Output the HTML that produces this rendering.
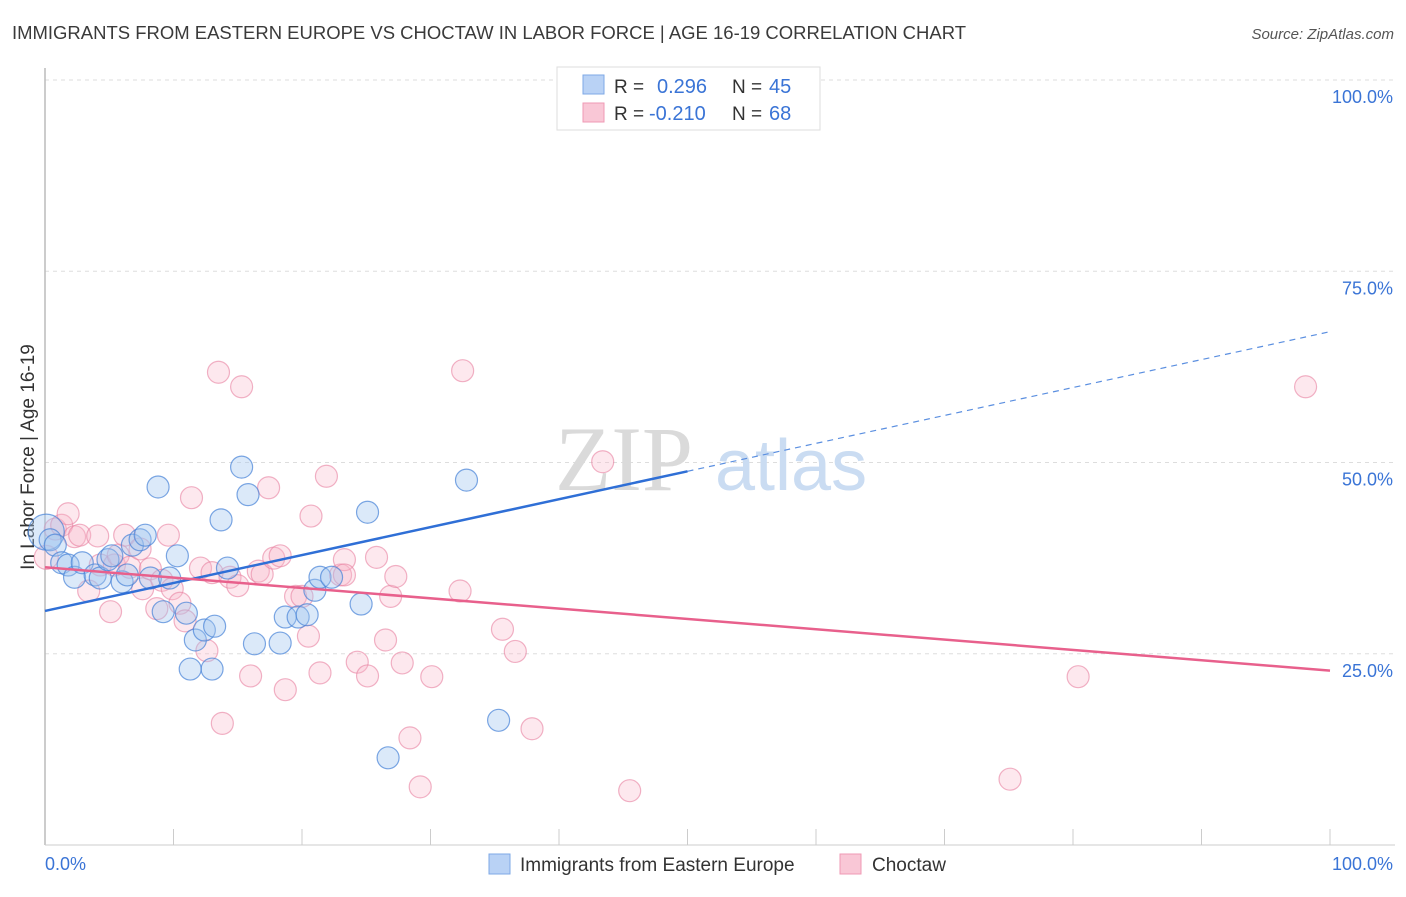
<!DOCTYPE html>
<html><head><meta charset="utf-8"><style>
body{margin:0;background:#fff;font-family:"Liberation Sans",sans-serif;}
svg text{font-family:"Liberation Sans",sans-serif;}
</style></head><body>
<svg id="chart" width="1406" height="892" viewBox="0 0 1406 892">
<text x="12" y="39" font-size="18" fill="#3a3a3a" textLength="954" lengthAdjust="spacingAndGlyphs">IMMIGRANTS FROM EASTERN EUROPE VS CHOCTAW IN LABOR FORCE | AGE 16-19 CORRELATION CHART</text>
<text x="1394" y="39" font-size="15" fill="#555" font-style="italic" text-anchor="end">Source: ZipAtlas.com</text>
<g id="grid"></g>
<g>
<text x="555" y="490" font-size="92" fill="#dadada" style="font-family:'Liberation Serif',serif">ZIP</text>
<text x="715" y="490" font-size="72" fill="#cadcf2">atlas</text>
</g>
<line x1="45" y1="68" x2="45" y2="845" stroke="#bbb" stroke-width="1.5"/>
<line x1="45" y1="845" x2="1395" y2="845" stroke="#ccc" stroke-width="1"/>
<g id="ticks"></g>
<g id="ylabels"></g>
<text transform="translate(34,457) rotate(-90)" font-size="19" fill="#333" text-anchor="middle">In Labor Force | Age 16-19</text>
<text x="45" y="870" font-size="18" fill="#3a74d6">0.0%</text>
<text x="1393" y="870" font-size="18" fill="#3a74d6" text-anchor="end">100.0%</text>
<g id="pink"></g>
<g id="blue"></g>
<g id="trends"></g>
<g>
<rect x="557" y="67" width="263" height="63" fill="#fff" stroke="#ddd"/>
<rect x="583" y="75" width="21" height="19" fill="#b9d2f5" stroke="#7ea8e6"/>
<rect x="583" y="103" width="21" height="19" fill="#f9c7d6" stroke="#ef9ab4"/>
<text x="614" y="93" font-size="19" fill="#333">R =</text><text x="657" y="93" font-size="20" fill="#3a74d6">0.296</text>
<text x="732" y="93" font-size="19" fill="#333">N =</text><text x="769" y="93" font-size="20" fill="#3a74d6">45</text>
<text x="614" y="120" font-size="19" fill="#333">R =</text><text x="649" y="120" font-size="20" fill="#3a74d6">-0.210</text>
<text x="732" y="120" font-size="19" fill="#333">N =</text><text x="769" y="120" font-size="20" fill="#3a74d6">68</text>
</g>
<g>
<rect x="489" y="854" width="21" height="20" fill="#b9d2f5" stroke="#7ea8e6"/>
<text x="520" y="871" font-size="19" fill="#333">Immigrants from Eastern Europe</text>
<rect x="840" y="854" width="21" height="20" fill="#f9c7d6" stroke="#ef9ab4"/>
<text x="872" y="871" font-size="19" fill="#333">Choctaw</text>
</g>
</svg>
<script>
const blueX=[0.1,0.4,0.8,1.3,1.8,2.3,2.9,3.9,4.3,4.9,5.2,6.0,6.4,6.8,7.4,7.8,8.2,8.8,9.2,9.7,10.3,11.0,11.7,12.4,13.0,13.2,11.3,13.7,14.2,15.3,15.8,16.3,18.3,18.7,19.7,20.4,21.0,21.4,22.3,24.6,25.1,26.7,32.8,35.3,50.2];
const blueY=[40.9,39.9,39.2,36.9,36.6,35.0,36.9,35.3,34.9,37.3,37.8,34.4,35.3,39.2,39.9,40.5,34.9,46.8,30.5,34.9,37.8,30.3,26.8,28.1,23.0,28.6,23.0,42.5,36.2,49.4,45.8,26.3,26.4,29.8,29.8,30.1,33.3,35.0,35.0,31.5,43.5,11.4,47.7,16.3,100];
const pinkX=[0.1,0.8,1.3,1.8,2.3,2.7,3.4,4.1,4.3,5.1,5.4,5.7,6.2,6.6,7.4,7.6,8.2,8.7,9.1,9.6,9.9,10.5,10.9,11.4,12.1,12.6,13.0,13.5,13.8,14.4,15.0,15.3,16.0,16.6,16.9,17.4,17.8,18.3,18.7,19.5,20.0,20.5,20.7,21.4,21.9,23.0,23.3,24.3,25.1,25.8,26.5,26.9,27.3,27.8,28.4,29.2,30.1,32.3,32.5,35.6,36.6,37.9,43.4,45.5,75.1,80.4,98.1,23.3];
const pinkY=[37.6,41.3,41.8,43.3,40.3,40.5,33.2,40.4,36.6,30.5,36.6,37.9,40.5,36.3,38.7,33.5,36.1,30.9,34.6,40.5,33.5,31.6,29.3,45.4,36.2,25.4,35.6,61.8,15.9,35.0,33.9,59.9,22.1,35.8,35.4,46.7,37.5,37.8,20.3,32.5,32.5,27.3,43.0,22.5,48.2,35.3,37.3,23.9,22.1,37.6,26.8,32.5,35.1,23.8,14.0,7.6,22.0,33.2,62.0,28.2,25.3,15.2,50.1,7.1,8.6,22.0,59.9,35.3];
const blueTrend=[30.6,67.1];
const blueSolidEnd=50;
const pinkTrend=[36.3,22.8];
const yTicks=[25,50,75,100];
const yTickLabels=["25.0%","50.0%","75.0%","100.0%"];
const xTicks=[10,20,30,40,50,60,70,80,90,100];

const NS="http://www.w3.org/2000/svg";
const X=v=>45+v*12.85;
const Y=v=>845-v*7.65;
function mk(tag,attrs,parent){const e=document.createElementNS(NS,tag);for(const k in attrs)e.setAttribute(k,attrs[k]);document.getElementById(parent).appendChild(e);return e;}

yTicks.forEach((t,i)=>{
  const g=mk('line',{x1:45,x2:1395,y1:Y(t),y2:Y(t),stroke:'#ddd','stroke-dasharray':'4,4'},'grid');
  
  
  const l=mk('text',{x:1393,y:Y(t)+23,'font-size':18,fill:'#3a74d6','text-anchor':'end'},'ylabels');
  l.textContent=yTickLabels[i];
  
  
});
xTicks.forEach(t=>{
  const l=mk('line',{x1:X(t),x2:X(t),y1:829,y2:845,stroke:'#ccc'},'ticks');
  
  
});
pinkX.forEach((x,i)=>{
  const c=mk('circle',{cx:X(x),cy:Y(pinkY[i]),r:i===0?12:11,fill:'rgba(248,182,202,0.32)',stroke:'rgba(232,128,160,0.6)','stroke-width':1.2},'pink');
  
  
});
blueX.forEach((x,i)=>{
  const c=mk('circle',{cx:X(x),cy:Y(blueY[i]),r:i===0?18:11,fill:'rgba(160,196,240,0.38)',stroke:'rgba(70,130,215,0.7)','stroke-width':1.2},'blue');
  
  
});
const bAt=x=>blueTrend[0]+(blueTrend[1]-blueTrend[0])*x/100;
let t1=mk('line',{x1:X(0),y1:Y(bAt(0)),x2:X(blueSolidEnd),y2:Y(bAt(blueSolidEnd)),stroke:'#2f6fd6','stroke-width':2.5},'trends');


let t2=mk('line',{x1:X(blueSolidEnd),y1:Y(bAt(blueSolidEnd)),x2:X(100),y2:Y(bAt(100)),stroke:'#5b8fe0','stroke-width':1.2,'stroke-dasharray':'6,5'},'trends');


let t3=mk('line',{x1:X(0),y1:Y(pinkTrend[0]),x2:X(100),y2:Y(pinkTrend[1]),stroke:'#e8608c','stroke-width':2.5},'trends');


</script>
</body></html>
